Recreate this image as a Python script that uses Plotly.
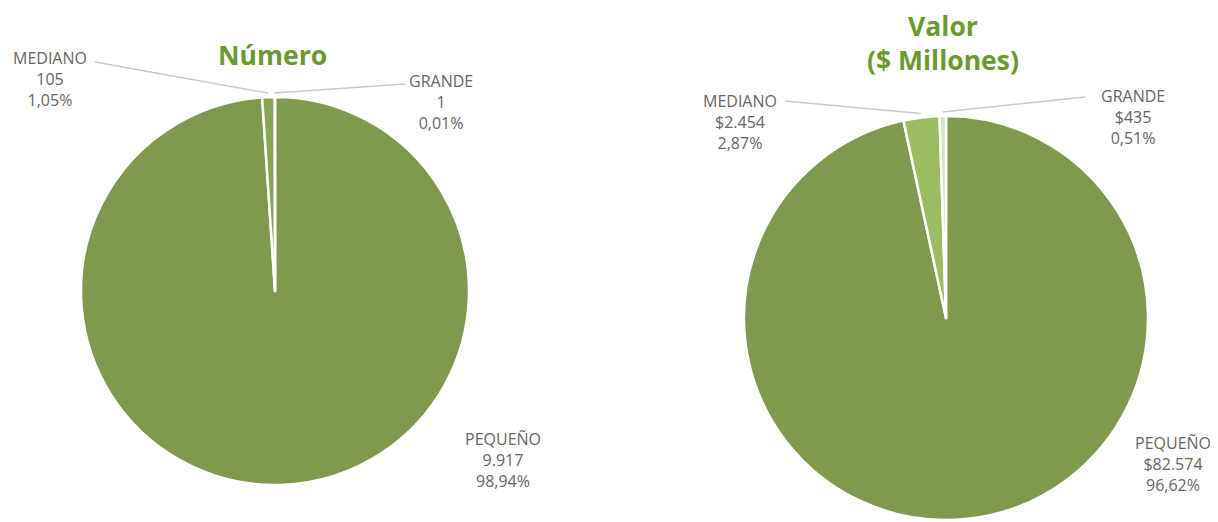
import math
import plotly.graph_objects as go

# The page body has an 8px default margin; positions below are in reference-image pixels
OFF = 8
W, H = 1218 - OFF, 522 - OFF

categories = ["PEQUEÑO", "MEDIANO", "GRANDE"]
numero_values = [9917, 105, 1]
numero_pct = ["98,94%", "1,05%", "0,01%"]
numero_text = ["9.917", "105", "1"]
valor_values = [82574, 2454, 435]
valor_pct = ["96,62%", "2,87%", "0,51%"]
valor_text = ["$82.574", "$2.454", "$435"]

colors_left = ["#7f9a4e", "#88a455", "#d7e4bd"]
colors_right = ["#7f9a4e", "#9dbb61", "#d7e4bd"]

# pie geometry in reference pixels (center x, center y from top, radius)
pies = [
    dict(cx=275, cy=291, r=194),
    dict(cx=946, cy=318, r=202),
]


def px(x):
    return (x - OFF) / W


def py(y):
    return 1 - (y - OFF) / H


fig = go.Figure()


def domain(p):
    return dict(
        x=[px(p["cx"] - p["r"]), px(p["cx"] + p["r"])],
        y=[py(p["cy"] + p["r"]), py(p["cy"] - p["r"])],
    )


for vals, cols, p in [(numero_values, colors_left, pies[0]), (valor_values, colors_right, pies[1])]:
    fig.add_trace(go.Pie(
        labels=categories, values=vals, sort=False, direction="clockwise", rotation=0,
        marker=dict(colors=cols, line=dict(color="white", width=2.5)),
        textinfo="none", hoverinfo="label+value+percent", showlegend=False,
        domain=domain(p),
    ))


def edge_point(vals, idx, p, extra=4):
    tot = sum(vals)
    start = sum(vals[:idx]) / tot
    mid = start + vals[idx] / tot / 2
    th = 2 * math.pi * mid
    x = p["cx"] + (p["r"] + extra) * math.sin(th)
    y = p["cy"] - (p["r"] + extra) * math.cos(th)
    return px(x), py(y)


label_font = dict(family="Open Sans, Lato, sans-serif", size=16, color="#666666")


def add_label(lines, x, y):
    fig.add_annotation(
        x=px(x), y=py(y), xref="paper", yref="paper",
        text="<br>".join(lines), showarrow=False, align="center",
        xanchor="center", yanchor="top", font=label_font,
    )


def add_leader(x0, y0, pt):
    fig.add_shape(type="line", xref="paper", yref="paper",
                  x0=px(x0), y0=py(y0), x1=pt[0], y1=pt[1],
                  line=dict(color="#c8c8c8", width=1.5))


# Left pie labels
add_label([categories[1], numero_text[1], numero_pct[1]], 50, 45)
add_leader(95, 62, edge_point(numero_values, 1, pies[0]))
add_label([categories[2], numero_text[2], numero_pct[2]], 441, 68)
add_leader(405, 84, edge_point(numero_values, 2, pies[0]))
add_label([categories[0], numero_text[0], numero_pct[0]], 503, 426)

# Right pie labels
add_label([categories[1], valor_text[1], valor_pct[1]], 740, 88)
add_leader(785, 101, edge_point(valor_values, 1, pies[1]))
add_label([categories[2], valor_text[2], valor_pct[2]], 1133, 83)
add_leader(1085, 97, edge_point(valor_values, 2, pies[1]))
add_label([categories[0], valor_text[0], valor_pct[0]], 1173, 430)

title_font = dict(family="Open Sans, Lato, sans-serif", size=26.5, color="#6a9a2e")
fig.add_annotation(x=px(272), y=py(55), xref="paper", yref="paper",
                   text="<b>Número</b>", showarrow=False, font=title_font,
                   xanchor="center", yanchor="middle", borderpad=0)
fig.add_annotation(x=px(943), y=py(43), xref="paper", yref="paper",
                   text="<b>Valor<br>($ Millones)</b>", showarrow=False, font=title_font,
                   xanchor="center", yanchor="middle", align="center", borderpad=0)

fig.update_layout(
    width=W, height=H, margin=dict(l=0, r=0, t=0, b=0),
    paper_bgcolor="white", plot_bgcolor="white",
)

fig.write_html("out.html")
